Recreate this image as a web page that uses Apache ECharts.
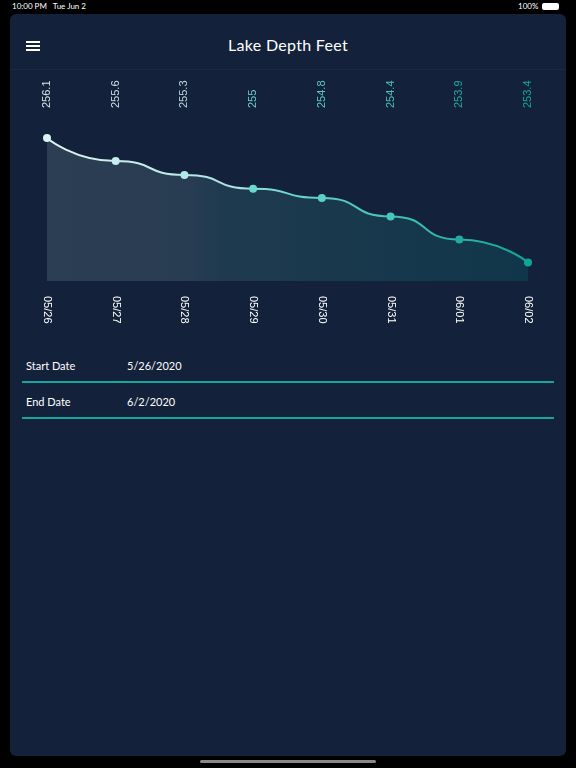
<!DOCTYPE html>
<html><head><meta charset="utf-8">
<script src="https://cdn.jsdelivr.net/npm/echarts@6/dist/echarts.min.js"></script>
<style>
html,body{margin:0;padding:0;width:576px;height:768px;background:#000;overflow:hidden;font-family:Lato,"Noto Sans",sans-serif;}
#panel{position:absolute;left:10px;top:14px;width:556px;height:742px;background:#13223a;border-radius:6px;}
#hdr{position:absolute;left:10px;top:69px;width:556px;height:1px;background:#1b2b44;}
#title{position:absolute;left:0;width:576px;top:35px;text-align:center;color:#fff;font-size:16px;letter-spacing:0.3px;}
.menu{position:absolute;left:26px;width:14px;height:2px;background:#fff;}
.st{position:absolute;color:#fff;font-size:11px;}
.ln{position:absolute;left:22px;width:532px;height:2px;background:#14a89a;}
#status{position:absolute;top:1px;font-size:8px;color:#fff;}
#home{position:absolute;left:200px;top:760px;width:176px;height:3px;border-radius:2px;background:#888;}
#c{position:absolute;left:0;top:0;width:576px;height:768px;}
</style></head><body>
<div id="panel"></div><div id="hdr"></div>
<div id="status" style="left:12px">10:00 PM&nbsp;&nbsp; Tue Jun 2</div>
<div id="status" style="left:518px">100%</div>
<div style="position:absolute;left:542px;top:3px;width:17px;height:7px;background:#fff;border-radius:2px"></div>
<div id="title">Lake Depth Feet</div>
<div class="menu" style="top:41px"></div><div class="menu" style="top:45px"></div><div class="menu" style="top:49px"></div>
<div class="st" style="left:26px;top:359px">Start Date</div><div class="st" style="left:127px;top:359px">5/26/2020</div>
<div class="ln" style="top:381px"></div>
<div class="st" style="left:26px;top:395px">End Date</div><div class="st" style="left:127px;top:395px">6/2/2020</div>
<div class="ln" style="top:417px"></div>
<div id="home"></div>
<div id="c"></div>
<script>
const categories=["05/26","05/27","05/28","05/29","05/30","05/31","06/01","06/02"];
const depths=[256.1,255.6,255.3,255,254.8,254.4,253.9,253.4];
const labelColors=["#d8e6ea","#cfdfe4","#bcd6dc","#6cd0c8","#5ccac2","#4cc0b8","#22aaa0","#14a89a"];
const pointColors=["#d8f4f4","#c6eeee","#b0eae8","#6ad8cc","#5ccfc6","#48c6bc","#20aca0","#0ea596"];
const chart=echarts.init(document.getElementById('c'),null,{renderer:'canvas'});
chart.setOption({
 backgroundColor:'transparent',
 grid:{left:47,right:48,top:138,bottom:487},
 xAxis:[
  {type:'category',data:categories,boundaryGap:false,position:'bottom',
   axisLine:{show:false},axisTick:{show:false},splitLine:{show:false},
   axisLabel:{rotate:-90,margin:15,color:'#fff',fontSize:11,fontFamily:'Liberation Sans'}},
  {type:'category',data:depths.map(String),boundaryGap:false,position:'top',
   axisLine:{show:false},axisTick:{show:false},
   axisLabel:{rotate:-90,margin:30,fontSize:11,fontFamily:'Liberation Sans',color:(v,i)=>labelColors[i]}}
 ],
 yAxis:{type:'value',min:253,max:256.1,show:false},
 series:[{type:'line',data:depths.map((v,i)=>({value:v,itemStyle:{color:pointColors[i]}})),
  smooth:0.6,smoothMonotone:'x',symbol:'circle',symbolSize:8,
  lineStyle:{width:2,color:new echarts.graphic.LinearGradient(0,0,1,0,[{offset:0,color:'#e0f4f4'},{offset:0.4,color:'#a8e2e0'},{offset:0.5,color:'#6ad6cc'},{offset:1,color:'#0ea596'}])},
  areaStyle:{origin:'start',opacity:1,color:new echarts.graphic.LinearGradient(0,0,1,0,[{offset:0,color:'#2c3e53'},{offset:0.3,color:'#283c52'},{offset:0.36,color:'#1f3a4e'},{offset:1,color:'#10364a'}])}
 }]
});
</script></body></html>
